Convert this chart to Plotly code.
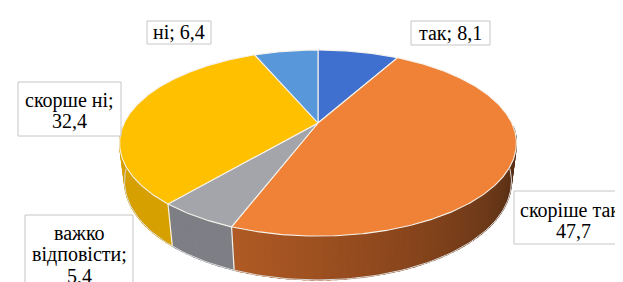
import numpy as np
import plotly.graph_objects as go

# ---------------- data ----------------
categories = ["так", "скоріше так", "важко відповісти", "скорше ні", "ні"]
values = [8.1, 47.7, 5.4, 32.4, 6.4]
# how each data label is broken into lines ({v} = value)
label_templates = ["так; {v}", "скоріше так;<br>{v}", "важко<br>відповісти;<br>{v}",
                   "скорше ні;<br>{v}", "ні; {v}"]

# ---------------- styles ----------------
top_colors = ["#3f70cf", "#ef8236", "#a3a5aa", "#ffc000", "#5898da"]
side_anchors = [
    [(0, (50, 85, 160)), (360, (50, 85, 160))],
    [(100, (78, 40, 18)), (125, (102, 54, 24)), (160, (138, 70, 28)), (201, (176, 90, 36))],
    [(0, (125, 127, 133)), (360, (125, 127, 133))],
    [(0, (214, 160, 0)), (360, (214, 160, 0))],
    [(0, (70, 120, 180)), (360, (70, 120, 180))],
]
label_boxes = [(403, 13, 482, 37), (506, 183, 630, 236), (17, 207, 125, 292),
               (10, 74, 113, 128), (139, 13, 203, 36)]
label_text_x = [442.5, 565, 71, 61.5, 171]
label_line_y0 = [25, 202, 225, 92, 24]
label_line_gap = [21, 21, 21.5, 21, 21]
FONT = "serif"

W, H = 623, 282
K, SIN, COS, DIST, DEPTH = 193.8, 0.458, 0.889, 4.13, 0.222
CX, CY = 310, 115


def proj(theta_deg, Y):
    t = np.radians(theta_deg)
    X, Z = np.sin(t), np.cos(t)
    den = 1 + (Z * COS - Y * SIN) / DIST
    return CX + K * X / den, CY - K * (Y * COS + Z * SIN) / den


def interp_color(anchors, th):
    angs = [a for a, _ in anchors]
    rgb = [np.interp(th, angs, [c[i] for _, c in anchors]) for i in range(3)]
    return "rgb(%d,%d,%d)" % tuple(int(round(v)) for v in rgb)


total = sum(values)
bounds = np.concatenate([[0], np.cumsum(values) / total * 360])

fig = go.Figure()

# ---- side walls ----
for i in range(len(values)):
    a0, a1 = bounds[i], bounds[i + 1]
    lo, hi = max(a0, 92), min(a1, 268)
    if hi <= lo:
        continue
    n = max(1, int(np.ceil((hi - lo) / 2.0)))
    edges = np.linspace(lo, hi, n + 1)
    for j in range(n):
        e0 = edges[j]
        e1 = min(edges[j + 1] + (0.6 if j < n - 1 else 0), hi)
        th = np.linspace(e0, e1, 4)
        xt, yt = proj(th, 0)
        xb, yb = proj(th[::-1], -DEPTH)
        col = interp_color(side_anchors[i], (e0 + e1) / 2)
        fig.add_trace(go.Scatter(
            x=np.concatenate([xt, xb, xt[:1]]), y=np.concatenate([yt, yb, yt[:1]]),
            mode="lines", fill="toself", fillcolor=col,
            line=dict(color=col, width=1.2), hoverinfo="skip", showlegend=False))

for b in bounds:
    if 95 < b < 265:
        x0, y0 = proj(b, 0)
        x1, y1 = proj(b, -DEPTH)
        fig.add_trace(go.Scatter(x=[x0, x1], y=[y0, y1], mode="lines",
                                 line=dict(color="#f4f0ea", width=1.2),
                                 hoverinfo="skip", showlegend=False))
thb = np.linspace(95, 265, 120)
xb, yb = proj(thb, -DEPTH)
fig.add_trace(go.Scatter(x=xb, y=yb, mode="lines", line=dict(color="#d9d9d9", width=1),
                         hoverinfo="skip", showlegend=False))

# ---- top faces ----
for i in range(len(values)):
    a0, a1 = bounds[i], bounds[i + 1]
    th = np.linspace(a0, a1, max(8, int((a1 - a0) * 2)))
    xr, yr = proj(th, 0)
    xs = np.concatenate([[CX], xr, [CX]])
    ys = np.concatenate([[CY], yr, [CY]])
    fig.add_trace(go.Scatter(x=xs, y=ys, mode="lines", fill="toself",
                             fillcolor=top_colors[i],
                             line=dict(color="#f6f2ec", width=1.1),
                             name=categories[i], hoverinfo="name", showlegend=False))

# ---- data labels ----
shapes = []
annotations = []
for i, (cat, v) in enumerate(zip(categories, values)):
    vs = ("%.1f" % v).replace(".", ",")
    lines = label_templates[i].format(v=vs).split("<br>")
    x0, y0, x1, y1 = label_boxes[i]
    shapes.append(dict(type="rect", xref="x", yref="y", x0=x0, y0=y0, x1=x1, y1=y1,
                       line=dict(color="#c6c6c6", width=1), fillcolor="white", layer="above"))
    for k, ln in enumerate(lines):
        annotations.append(dict(x=label_text_x[i], y=label_line_y0[i] + k * label_line_gap[i],
                                xref="x", yref="y",
                                text="<span style='font-family:serif'>%s</span>" % ln,
                                showarrow=False, xanchor="center", yanchor="middle",
                                font=dict(family=FONT, size=20, color="black")))

fig.update_layout(
    width=W, height=H, autosize=False,
    font=dict(family=FONT, size=20, color="black"),
    margin=dict(l=0, r=0, t=0, b=0),
    paper_bgcolor="white", plot_bgcolor="white",
    xaxis=dict(range=[0, W], visible=False, fixedrange=True),
    yaxis=dict(range=[H, 0], visible=False, fixedrange=True),
    shapes=shapes, annotations=annotations, showlegend=False,
)

fig.write_html("out.html")
